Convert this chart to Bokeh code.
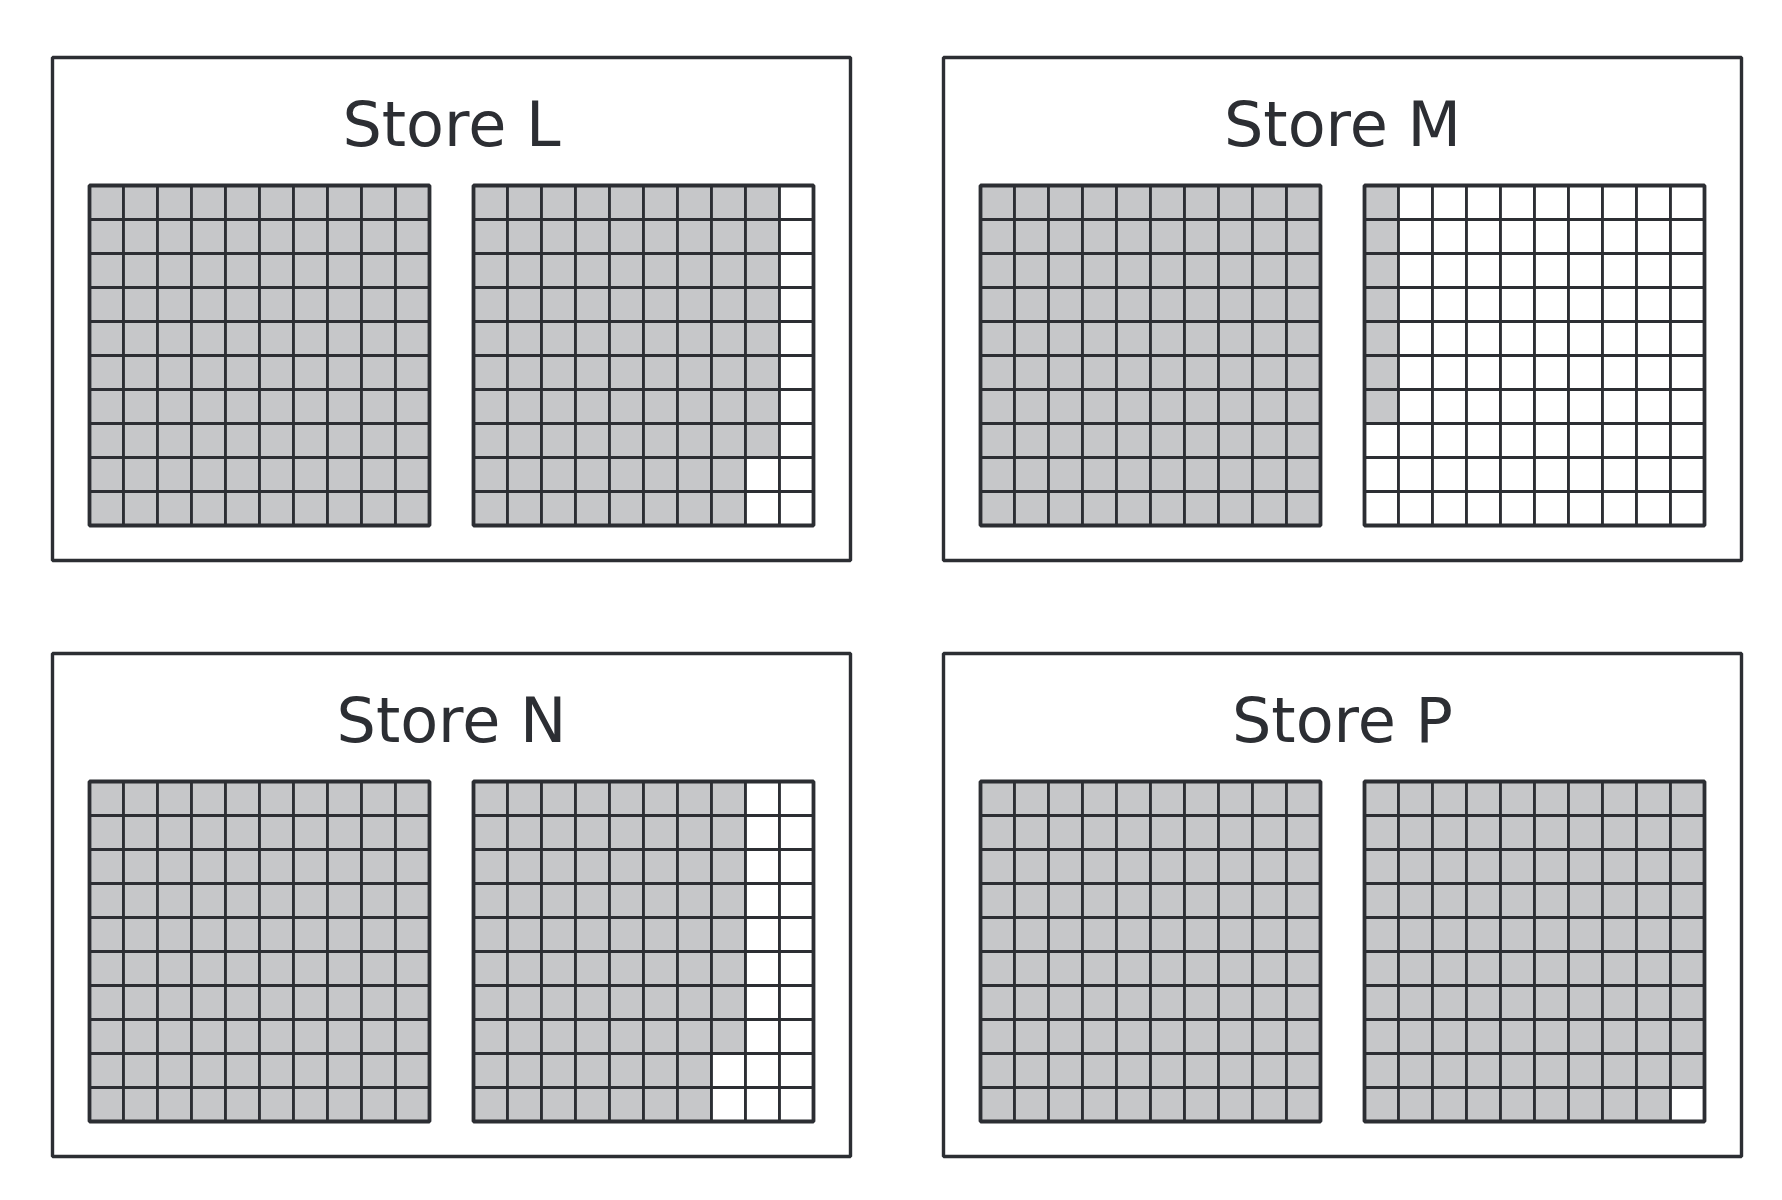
from bokeh.plotting import figure
from bokeh.models import Range1d, ColumnDataSource
from bokeh.core.properties import value
from bokeh.embed import file_html
from bokeh.resources import INLINE

# ---- data ----
stores = ["Store L", "Store M", "Store N", "Store P"]
counts = [188, 107, 178, 199]
grids_per_store = 2
cells_per_grid = 100

# ---- layout (pixels) ----
W, H = 1766, 1184
box_w, box_h = 798, 503
box_x0, box_y0 = 52, 57
box_dx, box_dy = 891, 596
grid_off_x = [37, 421]
grid_off_y = 128
cs = 34.0
title_off_y = 67

fill_on = "#c6c7c9"
fill_off = "#ffffff"
ink = "#2c2e33"

p = figure(width=W, height=H, x_range=Range1d(0, W), y_range=Range1d(H, 0),
           output_backend="svg", toolbar_location=None, min_border=0)
p.axis.visible = False
p.grid.visible = False
p.outline_line_color = None
p.background_fill_color = "white"
p.border_fill_color = "white"

cl, cr, ct, cb, cf = [], [], [], [], []
gl, gr, gt, gb = [], [], [], []
bl, br, bt, bb = [], [], [], []
tx, ty, tt = [], [], []
for i, (name, n) in enumerate(zip(stores, counts)):
    bx = box_x0 + (i % 2) * box_dx
    by = box_y0 + (i // 2) * box_dy
    bl.append(bx); br.append(bx + box_w); bt.append(by); bb.append(by + box_h)
    tx.append(bx + box_w / 2); ty.append(by + title_off_y); tt.append(name)
    for g in range(grids_per_store):
        gx = bx + grid_off_x[g]
        gy = by + grid_off_y
        gl.append(gx); gr.append(gx + 10 * cs); gt.append(gy); gb.append(gy + 10 * cs)
        for k in range(cells_per_grid):
            col, row = k // 10, k % 10
            cl.append(gx + col * cs); cr.append(gx + (col + 1) * cs)
            ct.append(gy + row * cs); cb.append(gy + (row + 1) * cs)
            cf.append(fill_on if g * cells_per_grid + k < n else fill_off)

p.quad(left=bl, right=br, top=bt, bottom=bb, fill_color=None,
       line_color=ink, line_width=3.4)
p.quad(source=ColumnDataSource(dict(l=cl, r=cr, t=ct, b=cb, f=cf)),
       left="l", right="r", top="t", bottom="b", fill_color="f",
       line_color=ink, line_width=2.8)
p.quad(left=gl, right=gr, top=gt, bottom=gb, fill_color=None,
       line_color=ink, line_width=3.8)
p.text(x=tx, y=ty, text=tt, text_align="center", text_baseline="alphabetic",
       text_font=value("DejaVu Sans"), text_font_size="62px", text_color=ink)

open("out.html", "w").write(file_html(p, INLINE))
